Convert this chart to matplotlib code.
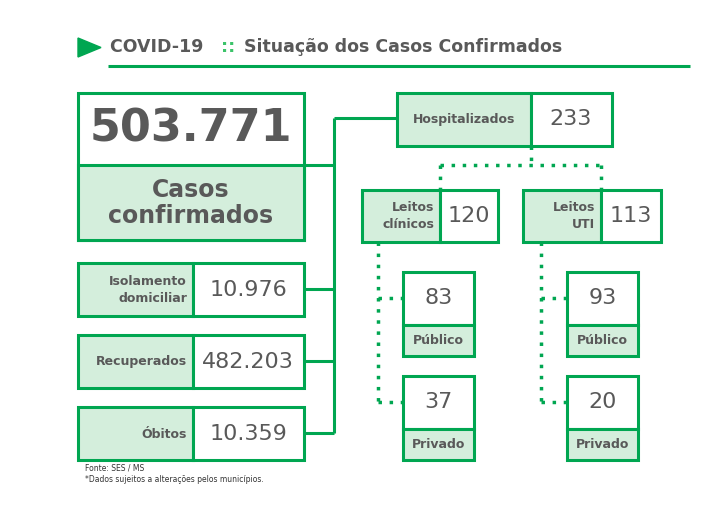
import matplotlib
matplotlib.use("Agg")
import matplotlib.pyplot as plt
from matplotlib.patches import Rectangle, Polygon

# data
total_label = "503.771"
left_labels = ["Isolamento\ndomiciliar", "Recuperados", "Óbitos"]
left_values = ["10.976", "482.203", "10.359"]
hosp_value = "233"
leitos_labels = ["Leitos\nclínicos", "Leitos\nUTI"]
leitos_values = ["120", "113"]
sub_labels = ["Público", "Privado"]
clin_values = ["83", "37"]
uti_values = ["93", "20"]

G = "#00A651"
F = "#D4EEDC"
T = "#595959"

fig = plt.figure(figsize=(7.08, 5.17), dpi=100)
ax = fig.add_axes([0, 0, 1, 1])
ax.set_xlim(0, 708); ax.set_ylim(517, 0); ax.axis("off")

def box(x0, y0, x1, y1, fill="white", lw=2.2):
    ax.add_patch(Rectangle((x0, y0), x1 - x0, y1 - y0, facecolor=fill, edgecolor=G, lw=lw, zorder=3))

def line(xs, ys, dotted=False):
    ax.plot(xs, ys, color=G, lw=2.2 if not dotted else 2.5,
            ls=(0, (1, 2.2)) if dotted else "-", zorder=2, solid_capstyle="butt")

# title
ax.add_patch(Polygon([[78, 38], [78, 57], [101, 47.5]], color=G))
ax.text(110, 47, "COVID-19 ", fontsize=12.5, fontweight="bold", color=T, va="center")
ax.text(221, 47, "::", fontsize=12.5, fontweight="bold", color="#3CC36A", va="center")
ax.text(244, 47, "Situação dos Casos Confirmados", fontsize=12.5, fontweight="bold", color=T, va="center")
line([108, 690], [66, 66])

# connectors
line([304, 334], [165, 165])
line([334, 334], [118, 433])
line([334, 397], [118, 118])
ys = [289, 361, 433]
for y in ys:
    line([304, 334], [y, y])

# big box
box(78, 93, 304, 240)
box(78, 165, 304, 240, fill=F)
ax.text(191, 129, total_label, fontsize=32, fontweight="bold", color=T, ha="center", va="center", zorder=4)
ax.text(191, 203, "Casos\nconfirmados", fontsize=17, fontweight="bold", color=T, ha="center", va="center", linespacing=1.1, zorder=4)

for i, (lab, val) in enumerate(zip(left_labels, left_values)):
    y0 = 263 + i * 72
    box(78, y0, 193, y0 + 53, fill=F)
    box(193, y0, 304, y0 + 53)
    ax.text(187, y0 + 27, lab, fontsize=9, fontweight="bold", color=T, ha="right", va="center", linespacing=1.4, zorder=4)
    ax.text(248, y0 + 27, val, fontsize=16, color=T, ha="center", va="center", zorder=4)

# hospitalizados
box(397, 93, 531, 146, fill=F)
box(531, 93, 612, 146)
ax.text(464, 119, "Hospitalizados", fontsize=9, fontweight="bold", color=T, ha="center", va="center", zorder=4)
ax.text(571, 119, hosp_value, fontsize=16, color=T, ha="center", va="center", zorder=4)

line([531, 531], [146, 165], True)
line([440, 601], [165, 165], True)
line([440, 440], [165, 190], True)
line([601, 601], [165, 190], True)

lx = [(362, 440, 498), (523, 601, 661)]
for (x0, xm, x1), lab, val in zip(lx, leitos_labels, leitos_values):
    box(x0, 190, xm, 242, fill=F)
    box(xm, 190, x1, 242)
    ax.text(xm - 6, 216, lab, fontsize=9, fontweight="bold", color=T, ha="right", va="center", linespacing=1.4, zorder=4)
    ax.text((xm + x1) / 2, 216, val, fontsize=16, color=T, ha="center", va="center", zorder=4)

for vx, bx, vals in [(378, 403, clin_values), (541, 567, uti_values)]:
    line([vx, vx], [242, 403], True)
    for j, (v, lab) in enumerate(zip(vals, sub_labels)):
        y0 = 272 + j * 104
        yc = y0 + 26
        line([vx, bx], [yc, yc], True)
        box(bx, y0, bx + 71, y0 + 53)
        box(bx, y0 + 53, bx + 71, y0 + 84, fill=F)
        ax.text(bx + 35.5, yc, v, fontsize=16, color=T, ha="center", va="center", zorder=4)
        ax.text(bx + 35.5, y0 + 69, lab, fontsize=9, fontweight="bold", color=T, ha="center", va="center", zorder=4)

ax.text(85, 468, "Fonte: SES / MS", fontsize=5.5, color="#333333", va="center")
ax.text(85, 480, "*Dados sujeitos a alterações pelos municípios.", fontsize=5.5, color="#333333", va="center")

fig.savefig("out.png", dpi=100, facecolor="white")
